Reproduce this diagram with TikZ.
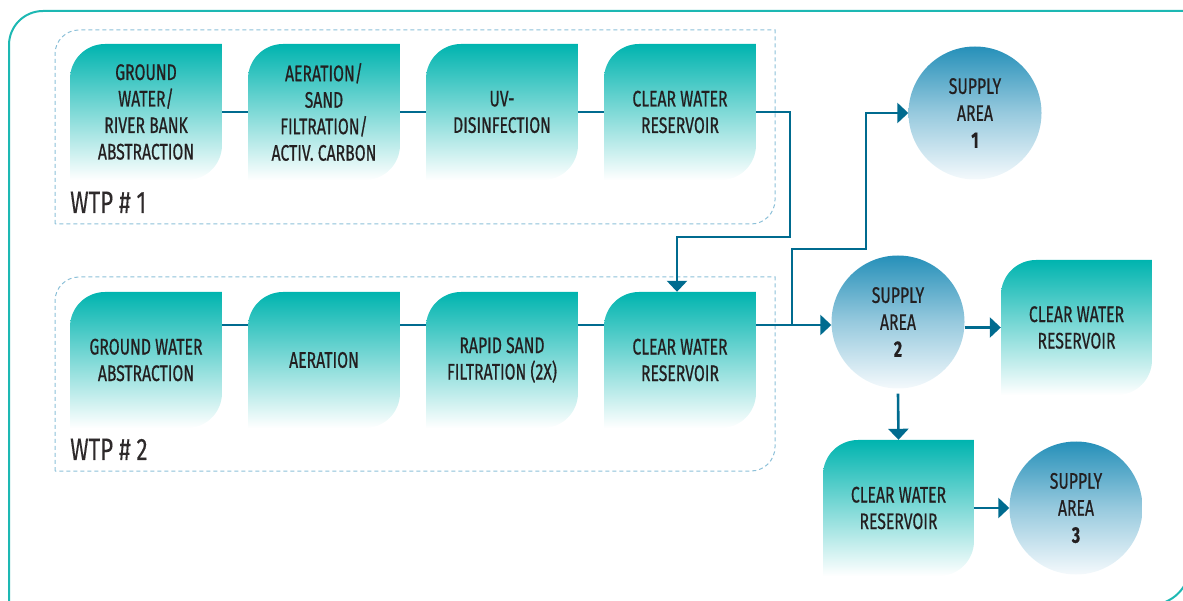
\documentclass[tikz,border=0pt]{standalone}
\usepackage{fontspec}
\setmainfont{Fira Sans}[FakeStretch=0.70, FakeBold=0.6]
\newfontfamily\wtpfont{Fira Sans}[FakeStretch=0.72, FakeBold=0.2]
\usetikzlibrary{arrows.meta}
\definecolor{tealc}{HTML}{00B4AF}
\definecolor{framec}{HTML}{1DB8B3}
\definecolor{linec}{HTML}{006B8F}
\definecolor{dashc}{HTML}{8CC0D8}
\definecolor{txtc}{HTML}{231F20}
\definecolor{circtop}{HTML}{2690B9}
\definecolor{circbot}{HTML}{F4F9FC}
\tikzset{
  leafbox/.style={minimum width=152pt, minimum height=136pt, inner sep=0pt, align=center,
    text=txtc, font=\fontsize{22.5}{26.5}\selectfont,
    path picture={\shade[top color=tealc, middle color=tealc!52!white, bottom color=white]
      (path picture bounding box.south west) -- ([yshift=-35pt]path picture bounding box.north west)
      arc[start angle=180,end angle=90,radius=35pt] -- (path picture bounding box.north east)
      -- ([yshift=35pt]path picture bounding box.south east)
      arc[start angle=0,end angle=-90,radius=35pt] -- cycle;}},
  areacirc/.style={circle, minimum size=133pt, inner sep=0pt, align=center,
    top color=circtop, bottom color=circbot, middle color=circtop!45!circbot,
    text=txtc, font=\fontsize{22.5}{27}\selectfont},
  wtplabel/.style={anchor=base west, inner sep=0pt, text=txtc!95, font=\wtpfont\fontsize{31}{31}\selectfont},
  conn/.style={draw=linec, line width=2.6pt},
  arr/.style={conn, -{Triangle[width=20pt,length=11pt]}},
  dashframe/.style={draw=dashc, line width=1pt, dash pattern=on 4pt off 3pt},
}
\begin{document}
\begin{tikzpicture}[x=1pt,y=1pt]
\useasboundingbox (0,0) rectangle (1183,600);
% outer frame
\draw[framec, line width=2pt] (1190,35) arc[start angle=0,end angle=-90,radius=40] -- (9,-5) -- (9,555)
  arc[start angle=180,end angle=90,radius=34] -- (1190,589) -- cycle;
% dashed WTP frames
\draw[dashframe] (55,376) -- (55,546) arc[start angle=180,end angle=90,radius=24] -- (775,570)
  -- (775,400) arc[start angle=0,end angle=-90,radius=24] -- cycle;
\draw[dashframe] (55,129) -- (55,299) arc[start angle=180,end angle=90,radius=24] -- (775,323)
  -- (775,153) arc[start angle=0,end angle=-90,radius=24] -- cycle;
% WTP 1
\node[leafbox] (a1) at (146,488) {GROUND\\WATER/\\RIVER BANK\\ABSTRACTION};
\node[leafbox] (a2) at (324,488) {AERATION/\\SAND\\FILTRATION/\\ACTIV. CARBON};
\node[leafbox] (a3) at (502,488) {UV-\\DISINFECTION};
\node[leafbox] (a4) at (680,488) {CLEAR WATER\\RESERVOIR};
\node[wtplabel] (w1) at (70,387) {WTP \# 1};
% WTP 2
\node[leafbox] (b1) at (146,240) {GROUND WATER\\ABSTRACTION};
\node[leafbox] (b2) at (324,240) {AERATION};
\node[leafbox] (b3) at (502,240) {RAPID SAND\\FILTRATION (2X)};
\node[leafbox] (b4) at (680,240) {CLEAR WATER\\RESERVOIR};
\node[wtplabel] (w2) at (70,140) {WTP \# 2};
% supply areas
\node[areacirc] (s1) at (975,487) {SUPPLY\\AREA\\\textbf{1}};
\node[areacirc] (s2) at (898,278) {SUPPLY\\AREA\\\textbf{2}};
\node[areacirc] (s3) at (1076,92) {SUPPLY\\AREA\\\textbf{3}};
\node[leafbox, minimum width=151pt, minimum height=135pt] (c1) at (1076.5,272.5) {CLEAR WATER\\RESERVOIR};
\node[leafbox, minimum width=151pt, minimum height=136pt] (c2) at (898.5,92) {CLEAR WATER\\RESERVOIR};
% coordinates
\coordinate (j1) at (790,363);
\coordinate (k1) at (792,275);
\coordinate (k2) at (866,351);
% connectors
\draw[conn] (a1.east) -- (a2.west);
\draw[conn] (a2.east) -- (a3.west);
\draw[conn] (a3.east) -- (a4.west);
\draw[conn] ([yshift=35pt]b1.east) -- ([yshift=35pt]b2.west);
\draw[conn] ([yshift=35pt]b2.east) -- ([yshift=35pt]b3.west);
\draw[conn] ([yshift=35pt]b3.east) -- ([yshift=35pt]b4.west);
\draw[arr] (a4.east) -| (j1) -| ([xshift=-3pt]b4.north);
\draw[arr] ([yshift=35pt]b4.east) -- ([yshift=35pt]b4.east -| s2.west);
\draw[arr] (k1) |- (k2) |- (s1.west);
\draw[arr] (s2.east |- c1.west) -- (c1.west);
\draw[arr] ([yshift=-5pt]s2.south) -- (c2.north);
\draw[arr] (c2.east) -- (s3.west);
\end{tikzpicture}
\end{document}
